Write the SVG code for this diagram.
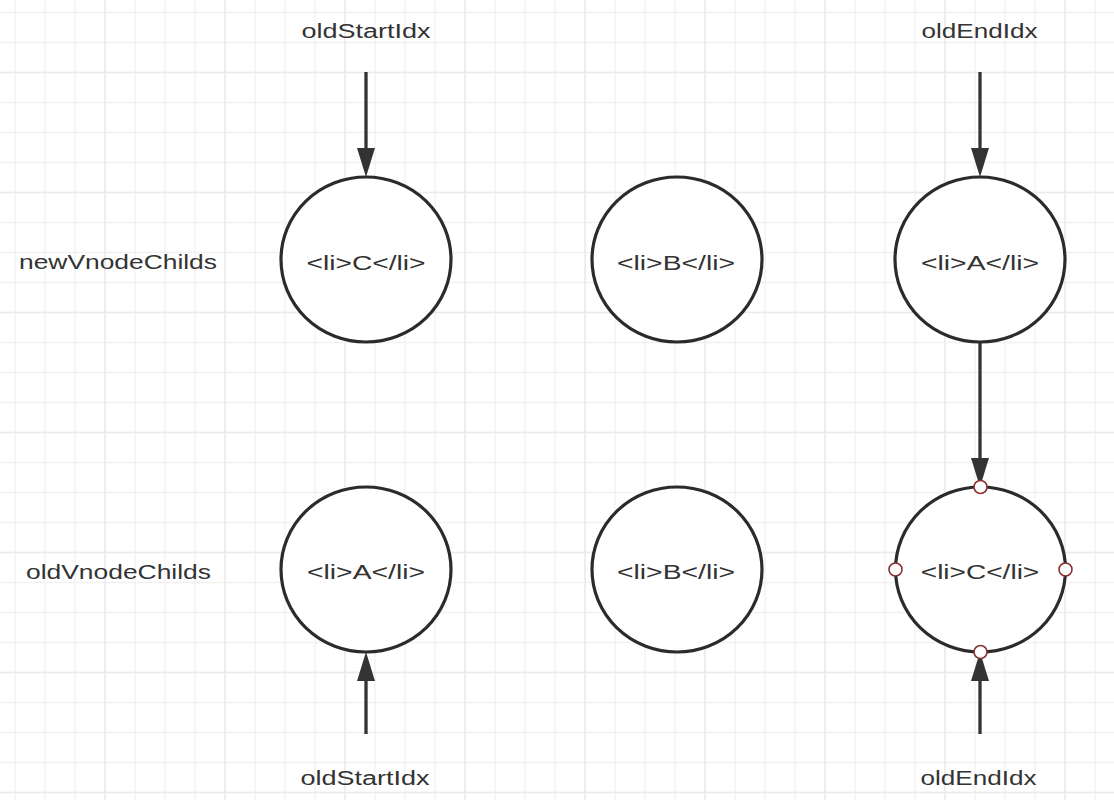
<svg xmlns="http://www.w3.org/2000/svg" width="1114" height="800" viewBox="0 0 1114 800">
  <defs>
    <pattern id="gridMinor" patternUnits="userSpaceOnUse" x="0" y="0" width="30" height="30">
      <path d="M15,0 V30 M0,12.5 H30" fill="none" stroke="#f1f1f1" stroke-width="1.3"/>
    </pattern>
    <pattern id="gridMajor" patternUnits="userSpaceOnUse" x="0" y="0" width="120" height="120">
      <path d="M105,0 V120 M0,72.5 H120" fill="none" stroke="#ebebeb" stroke-width="1.4"/>
    </pattern>
    <marker id="arrow" markerUnits="userSpaceOnUse" markerWidth="30" markerHeight="18" refX="10" refY="9" orient="auto" viewBox="0 0 30 18">
      <path d="M0,0 L29,9 L0,18 z" fill="#333333"/>
    </marker>
    <style>
      .node ellipse { fill: #ffffff; stroke: #2b2b2b; stroke-width: 3.2; }
      .lbl { font-family: "Liberation Sans", Arial, sans-serif; font-size: 20px; fill: #333333; text-anchor: middle; }
      .conn line { stroke: #333333; stroke-width: 3.3; marker-end: url(#arrow); }
      .port { fill: #ffffff; stroke: #8b3030; stroke-width: 1.6; }
    </style>
  </defs>

  <rect x="0" y="0" width="1114" height="800" fill="#ffffff"/>
  <rect x="0" y="0" width="1114" height="800" fill="url(#gridMinor)"/>
  <rect x="0" y="0" width="1114" height="800" fill="url(#gridMajor)"/>

  <g id="labels">
    <text class="lbl" x="366" y="38" textLength="129" lengthAdjust="spacingAndGlyphs">oldStartIdx</text>
    <text class="lbl" x="979.5" y="38" textLength="116" lengthAdjust="spacingAndGlyphs">oldEndIdx</text>
    <text class="lbl" x="118" y="269" textLength="198" lengthAdjust="spacingAndGlyphs">newVnodeChilds</text>
    <text class="lbl" x="118.5" y="579" textLength="185" lengthAdjust="spacingAndGlyphs">oldVnodeChilds</text>
    <text class="lbl" x="365" y="785" textLength="129" lengthAdjust="spacingAndGlyphs">oldStartIdx</text>
    <text class="lbl" x="978.5" y="785" textLength="116" lengthAdjust="spacingAndGlyphs">oldEndIdx</text>
  </g>

  <g id="connectors" class="conn">
    <line x1="366" y1="72" x2="366" y2="158"/>
    <line x1="980" y1="72" x2="980" y2="158"/>
    <line x1="980" y1="342" x2="980" y2="468"/>
    <line x1="366" y1="734" x2="366" y2="671"/>
    <line x1="980" y1="734" x2="980" y2="671"/>
  </g>

  <g id="new-C" class="node">
    <ellipse cx="366" cy="259.5" rx="85" ry="82.5"/>
    <text class="lbl" x="366" y="270" textLength="119" lengthAdjust="spacingAndGlyphs">&lt;li&gt;C&lt;/li&gt;</text>
  </g>
  <g id="new-B" class="node">
    <ellipse cx="677" cy="259.5" rx="85" ry="82.5"/>
    <text class="lbl" x="676" y="270" textLength="118" lengthAdjust="spacingAndGlyphs">&lt;li&gt;B&lt;/li&gt;</text>
  </g>
  <g id="new-A" class="node">
    <ellipse cx="980" cy="259.5" rx="85" ry="82.5"/>
    <text class="lbl" x="980" y="270" textLength="118" lengthAdjust="spacingAndGlyphs">&lt;li&gt;A&lt;/li&gt;</text>
  </g>
  <g id="old-A" class="node">
    <ellipse cx="366" cy="569.5" rx="85" ry="82.5"/>
    <text class="lbl" x="366" y="579" textLength="118" lengthAdjust="spacingAndGlyphs">&lt;li&gt;A&lt;/li&gt;</text>
  </g>
  <g id="old-B" class="node">
    <ellipse cx="677" cy="569.5" rx="85" ry="82.5"/>
    <text class="lbl" x="676" y="579" textLength="118" lengthAdjust="spacingAndGlyphs">&lt;li&gt;B&lt;/li&gt;</text>
  </g>
  <g id="old-C" class="node">
    <ellipse cx="980.5" cy="569.5" rx="85" ry="82.5"/>
    <text class="lbl" x="980" y="579" textLength="118.5" lengthAdjust="spacingAndGlyphs">&lt;li&gt;C&lt;/li&gt;</text>
    <circle class="port" cx="980.5" cy="487" r="6.5"/>
    <circle class="port" cx="895.5" cy="569.5" r="6.5"/>
    <circle class="port" cx="1065.5" cy="569.5" r="6.5"/>
    <circle class="port" cx="980.5" cy="652" r="6.5"/>
  </g>
</svg>
